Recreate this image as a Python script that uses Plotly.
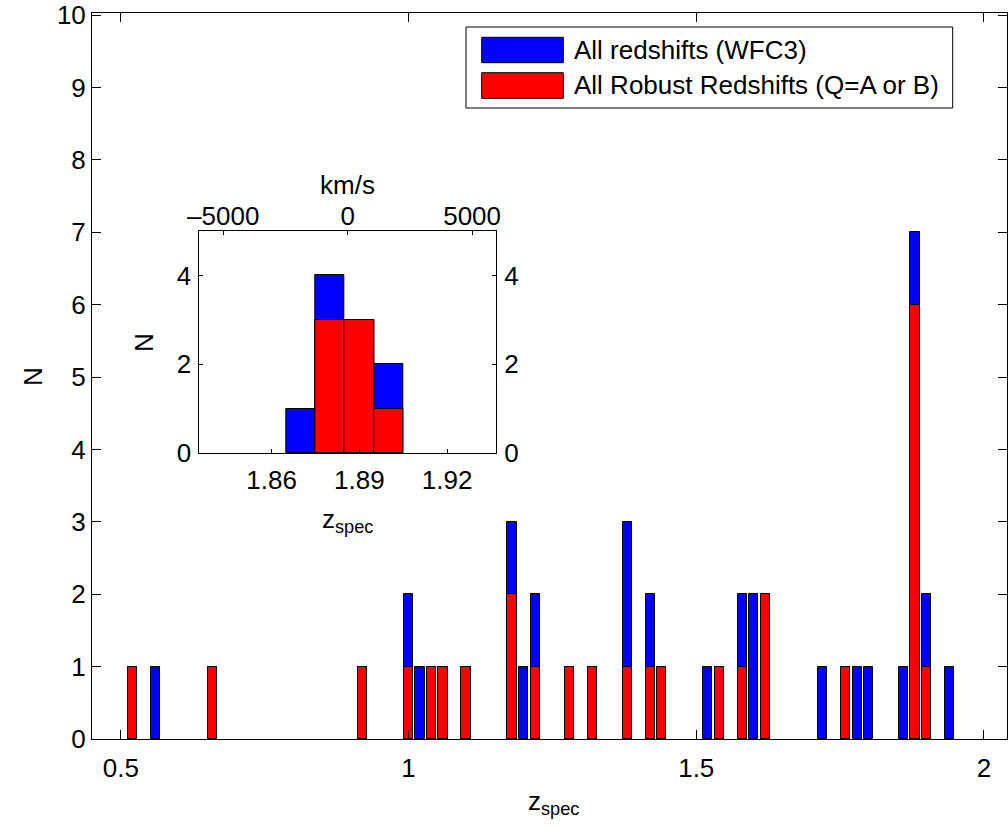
import plotly.graph_objects as go

# Redshift histogram: bin centres (dz = 0.02) and counts
z_bins = [0.52, 0.56, 0.66, 0.92, 1.00, 1.02, 1.04, 1.06, 1.10, 1.18,
          1.20, 1.22, 1.28, 1.32, 1.38, 1.42, 1.44, 1.52, 1.54, 1.58,
          1.60, 1.62, 1.72, 1.76, 1.78, 1.80, 1.86, 1.88, 1.90, 1.94]
n_all = [1, 1, 1, 1, 2, 1, 1, 1, 1, 3,
         1, 2, 1, 1, 3, 2, 1, 1, 1, 2,
         2, 2, 1, 1, 1, 1, 1, 7, 2, 1]
n_robust = [1, 0, 1, 1, 1, 0, 1, 1, 1, 2,
            0, 1, 1, 1, 1, 1, 1, 0, 1, 1,
            0, 2, 0, 1, 0, 0, 0, 6, 1, 0]

# Zoom on the cluster peak (dz = 0.01)
zin_bins = [1.87, 1.88, 1.89, 1.90]
nin_all = [1, 4, 3, 2]
nin_robust = [0, 3, 3, 1]

main_xticks = [0.5, 1, 1.5, 2]
main_yticks = list(range(0, 11))
inset_xticks = [1.86, 1.89, 1.92]
inset_yticks = [0, 2, 4]
vel_ticks = [-5000, 0, 5000]

label_all = "All redshifts (WFC3)"
label_robust = "All Robust Redshifts (Q=A or B)"

BLUE = "#0000ff"
RED = "#ff0000"
FONT = "Liberation Sans, Arial, sans-serif"
FS = 26
W, H = 1008, 827


def px(x):
    return x / W


def py(y):
    return 1 - y / H


def nonzero(xs, ns):
    pairs = [(x, n) for x, n in zip(xs, ns) if n > 0]
    return [p[0] for p in pairs], [p[1] for p in pairs]


fig = go.Figure()
edge = dict(color="black", width=1)

# main histogram
for xs, ns, col in ((z_bins, n_all, BLUE), (z_bins, n_robust, RED)):
    bx, by = nonzero(xs, ns)
    fig.add_trace(go.Bar(x=bx, y=by, width=0.016, marker=dict(color=col, line=edge),
                         xaxis="x", yaxis="y", showlegend=False, hoverinfo="x+y"))

# inset histogram
for xs, ns, col in ((zin_bins, nin_all, BLUE), (zin_bins, nin_robust, RED)):
    bx, by = nonzero(xs, ns)
    fig.add_trace(go.Bar(x=bx, y=by, width=0.01, marker=dict(color=col, line=edge),
                         xaxis="x2", yaxis="y2", showlegend=False, hoverinfo="x+y"))

# companion axes of the inset (velocity on top, counts on the right)
fig.add_trace(go.Scatter(x=[0], y=[0], mode="markers", marker=dict(opacity=0),
                         xaxis="x3", yaxis="y3", showlegend=False, hoverinfo="skip"))

axis_common = dict(showline=True, linecolor="black", linewidth=1, ticks="inside",
                   tickcolor="black", tickwidth=1, showgrid=False, zeroline=False,
                   automargin=False, ticklabeloverflow="allow",
                   tickfont=dict(family=FONT, size=FS, color="black"))

dom_x_main = [px(92), px(1007)]
dom_y_main = [py(739), py(13)]
dom_x_in = [px(199.3), px(496)]
dom_y_in = [py(453.3), py(231)]

fig.update_layout(
    width=W, height=H,
    margin=dict(l=0, r=0, t=0, b=0, pad=0, autoexpand=False),
    paper_bgcolor="white", plot_bgcolor="white",
    barmode="overlay",
    bargap=0,
    xaxis=dict(domain=dom_x_main, range=[0.45, 2.04], tickvals=main_xticks,
               ticktext=["0.5", "1", "1.5", "2"], ticklen=9, mirror="ticks",
               anchor="y", ticklabelstandoff=6, **axis_common),
    yaxis=dict(domain=dom_y_main, range=[0, 10.03], tickvals=main_yticks, ticklen=9,
               mirror="ticks", anchor="x", ticklabelstandoff=0, **axis_common),
    xaxis2=dict(domain=dom_x_in, range=[1.8353, 1.9367], tickvals=inset_xticks,
                ticktext=["1.86", "1.89", "1.92"], ticklen=4, mirror=True,
                anchor="y2", ticklabelstandoff=3, **axis_common),
    yaxis2=dict(domain=dom_y_in, range=[0, 5], tickvals=inset_yticks, ticklen=4,
                mirror=True, anchor="x2", ticklabelstandoff=2, **axis_common),
    xaxis3=dict(overlaying="x2", side="top", anchor="y2", range=[-5960, 5960],
                tickvals=vel_ticks, ticktext=["\u20135000", "0", "5000"], ticklen=4,
                ticklabelstandoff=-5, **axis_common),
    yaxis3=dict(overlaying="y2", side="right", anchor="x2", range=[0, 5],
                tickvals=inset_yticks, ticklen=4, ticklabelstandoff=2, **axis_common),
)

# white background behind the inset
fig.add_shape(type="rect", xref="paper", yref="paper", layer="below",
              x0=dom_x_in[0], x1=dom_x_in[1], y0=dom_y_in[0], y1=dom_y_in[1],
              fillcolor="white", line=dict(width=0))

# legend box with colour patches
fig.add_shape(type="rect", xref="paper", yref="paper",
              x0=px(466), x1=px(952.7), y0=py(108), y1=py(27),
              fillcolor="white", line=dict(color="black", width=1))
for (y0, y1, col, txt) in ((37.3, 62.7, BLUE, label_all), (72.7, 98.3, RED, label_robust)):
    fig.add_shape(type="rect", xref="paper", yref="paper",
                  x0=px(481.7), x1=px(563.3), y0=py(y1), y1=py(y0),
                  fillcolor=col, line=dict(color="black", width=1))
    fig.add_annotation(x=px(572), y=py((y0 + y1) / 2), xref="paper", yref="paper",
                       text=txt, showarrow=False, xanchor="left", yanchor="middle",
                       font=dict(family=FONT, size=FS, color="black"))

title_font = dict(family=FONT, size=FS, color="black")
# axis titles
fig.add_annotation(x=px(553), y=py(802), xref="paper", yref="paper",
                   text="z<sub>spec</sub>", showarrow=False, font=title_font,
                   xanchor="center", yanchor="middle")
fig.add_annotation(x=px(33), y=py(377), xref="paper", yref="paper",
                   text="N", textangle=-90, showarrow=False, font=title_font,
                   xanchor="center", yanchor="middle")
fig.add_annotation(x=px(347), y=py(520), xref="paper", yref="paper",
                   text="z<sub>spec</sub>", showarrow=False, font=title_font,
                   xanchor="center", yanchor="middle")
fig.add_annotation(x=px(144), y=py(343), xref="paper", yref="paper",
                   text="N", textangle=-90, showarrow=False, font=title_font,
                   xanchor="center", yanchor="middle")
fig.add_annotation(x=px(347), y=py(185), xref="paper", yref="paper",
                   text="km/s", showarrow=False, font=title_font,
                   xanchor="center", yanchor="middle")

fig.write_html("out.html")
